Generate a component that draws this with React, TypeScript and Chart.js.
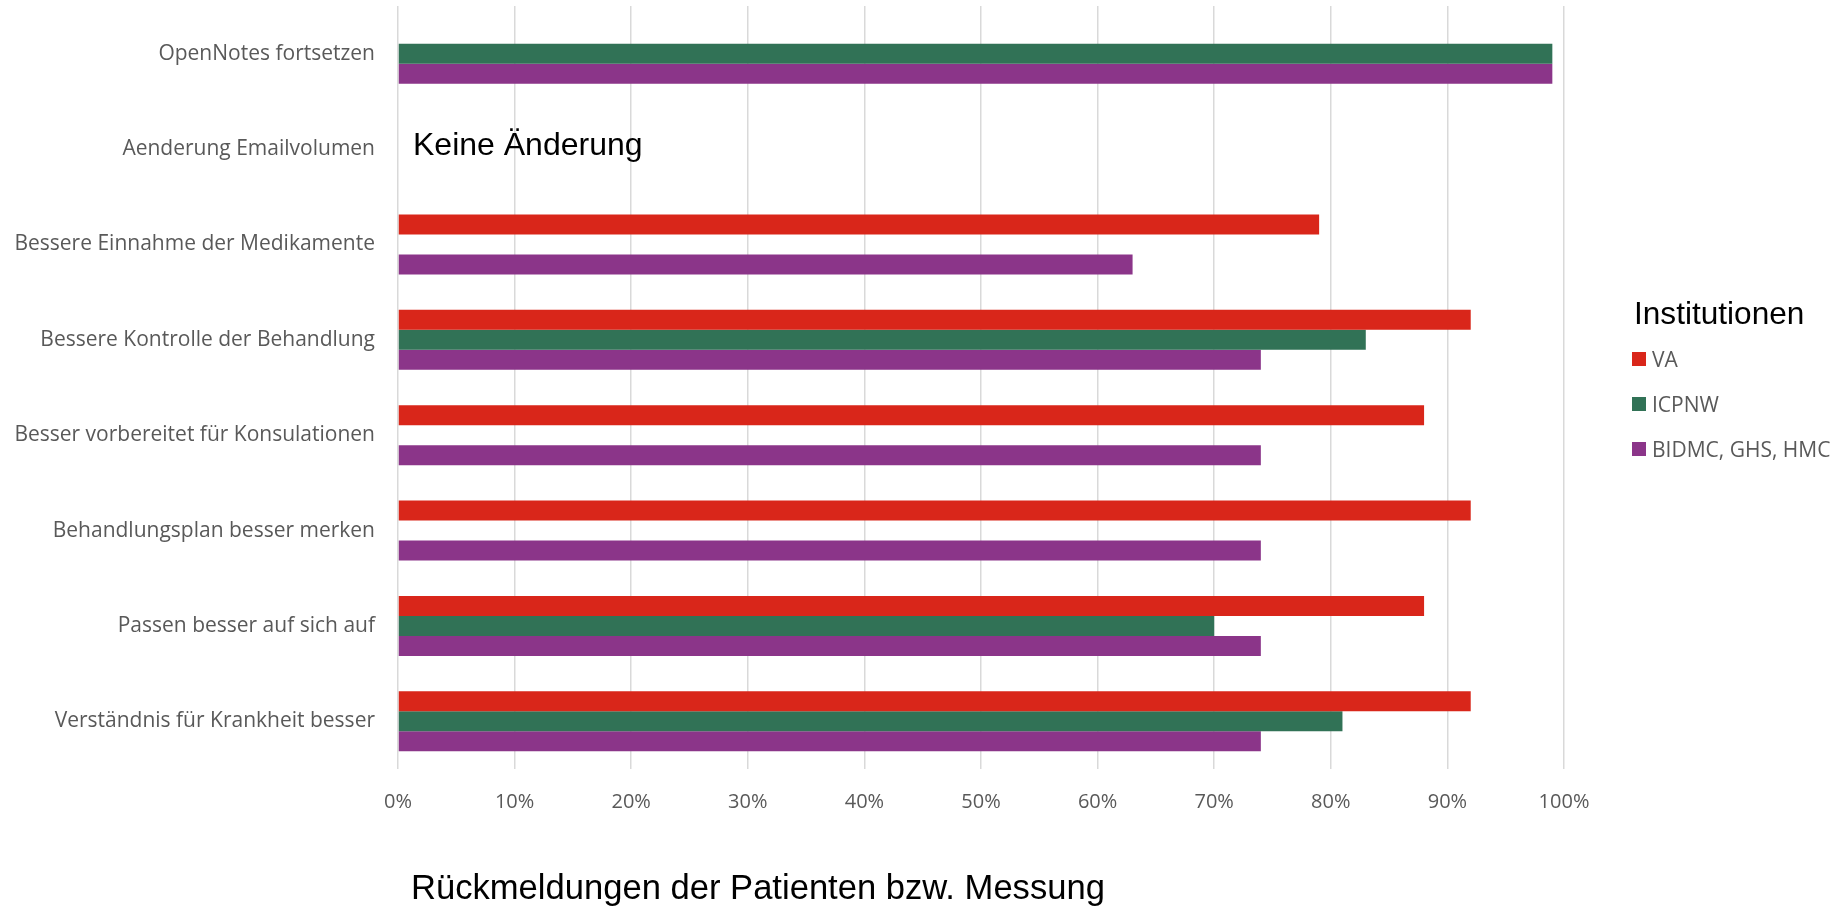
import React, { useEffect, useRef } from "react";
import { Chart, registerables } from "chart.js";

Chart.register(...registerables);

const categories = [
  "OpenNotes fortsetzen",
  "Aenderung Emailvolumen",
  "Bessere Einnahme der Medikamente",
  "Bessere Kontrolle der Behandlung",
  "Besser vorbereitet für Konsulationen",
  "Behandlungsplan besser merken",
  "Passen besser auf sich auf",
  "Verständnis für Krankheit besser",
];

const seriesNames = ["VA", "ICPNW", "BIDMC, GHS, HMC"];
const vaValues = [null, null, 79, 92, 88, 92, 88, 92];
const icpnwValues = [99, null, null, 83, null, null, 70, 81];
const bidmcValues = [99, null, 63, 74, 74, 74, 74, 74];

const xTicks = [0, 10, 20, 30, 40, 50, 60, 70, 80, 90, 100];

const legendTitle = "Institutionen";
const axisTitle = "Rückmeldungen der Patienten bzw. Messung";
const noteText = "Keine Änderung";
const noteCategoryIndex = 1;

const colors = ["#d9261a", "#317256", "#8b3589"];

const overlayPlugin = {
  id: "overlay",
  afterDraw(chart: any) {
    const ctx = chart.ctx;
    const xs = chart.scales.x;
    const ys = chart.scales.y;
    ctx.save();
    ctx.textBaseline = "alphabetic";
    ctx.textAlign = "left";

    // annotation
    ctx.fillStyle = "#000000";
    ctx.font = '32px "Liberation Sans", Arial, sans-serif';
    const ny = ys.getPixelForValue(noteCategoryIndex);
    ctx.fillText(noteText, xs.getPixelForValue(0) + 15, ny + 6);

    // axis title
    ctx.font = '34.6px "Liberation Sans", Arial, sans-serif';
    ctx.fillText(axisTitle, 411, 899);

    // legend
    ctx.font = '31.6px "Liberation Sans", Arial, sans-serif';
    ctx.fillText(legendTitle, 1634, 324);
    ctx.font = '21px "Open Sans", sans-serif';
    chart.data.datasets.forEach((ds: any, i: number) => {
      const cy = 359 + i * 45;
      ctx.fillStyle = ds.backgroundColor;
      ctx.fillRect(1632, cy - 7, 14, 14);
      ctx.fillStyle = "#595959";
      ctx.fillText(ds.label, 1652, cy + 7.5);
    });
    ctx.restore();
  },
};

export default function App() {
  const canvasRef = useRef<HTMLCanvasElement | null>(null);

  useEffect(() => {
    const canvas = canvasRef.current;
    if (!canvas) return;
    const chart = new Chart(canvas, {
      type: "bar",
      data: {
        labels: categories,
        datasets: [
          { label: seriesNames[0], data: vaValues, backgroundColor: colors[0] },
          { label: seriesNames[1], data: icpnwValues, backgroundColor: colors[1] },
          { label: seriesNames[2], data: bidmcValues, backgroundColor: colors[2] },
        ] as any,
      },
      options: {
        indexAxis: "y",
        responsive: false,
        animation: false,
        maintainAspectRatio: false,
        layout: { padding: { left: 0, right: 276, top: 6, bottom: 0 } },
        datasets: {
          bar: { categoryPercentage: 0.63, barPercentage: 1.0 },
        },
        plugins: {
          legend: { display: false },
          tooltip: { enabled: false },
          title: { display: false },
        },
        scales: {
          x: {
            type: "linear",
            min: 0,
            max: 100,
            afterFit: (s: any) => {
              s.height = 140;
              s.paddingLeft = 0;
              s.paddingRight = 0;
            },
            afterBuildTicks: (s: any) => {
              s.ticks = xTicks.map((v) => ({ value: v }));
            },
            ticks: {
              callback: (v: any) => v + "%",
              font: { family: '"Open Sans", sans-serif', size: 20 },
              color: "#595959",
              padding: 21,
              maxRotation: 0,
            },
            grid: {
              color: "#d9d9d9",
              lineWidth: 1.5,
              drawTicks: false,
            },
            border: { display: false },
          },
          y: {
            afterFit: (s: any) => {
              s.width = 398;
              s.paddingTop = 0;
              s.paddingBottom = 0;
            },
            ticks: {
              font: { family: '"Open Sans", sans-serif', size: 21 },
              color: "#595959",
              padding: 23,
            },
            grid: { display: false, drawTicks: false },
            border: { display: false },
          },
        },
      } as any,
      plugins: [overlayPlugin],
    });
    return () => chart.destroy();
  }, []);

  return (
    <div style={{ position: "absolute", left: 0, top: 0, width: 1840, height: 909, background: "#ffffff" }}>
      <canvas ref={canvasRef} width={1840} height={909} style={{ display: "block" }} />
    </div>
  );
}
